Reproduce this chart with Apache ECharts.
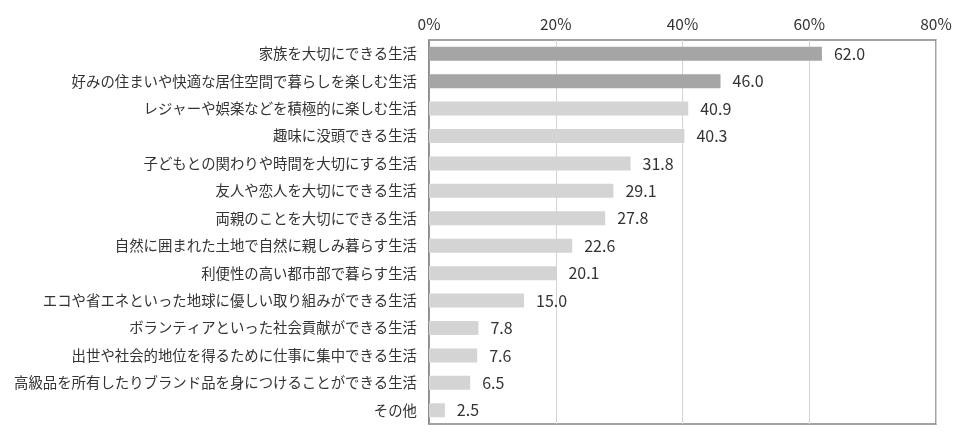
<!DOCTYPE html>
<html><head><meta charset="utf-8">
<script src="https://cdn.jsdelivr.net/npm/echarts@6/dist/echarts.min.js"></script>
<style>html,body{margin:0;padding:0;background:#fff}#c{width:974px;height:448px}</style>
</head><body><div id="c"></div>
<script>
const categories = [
  "家族を大切にできる生活",
  "好みの住まいや快適な居住空間で暮らしを楽しむ生活",
  "レジャーや娯楽などを積極的に楽しむ生活",
  "趣味に没頭できる生活",
  "子どもとの関わりや時間を大切にする生活",
  "友人や恋人を大切にできる生活",
  "両親のことを大切にできる生活",
  "自然に囲まれた土地で自然に親しみ暮らす生活",
  "利便性の高い都市部で暮らす生活",
  "エコや省エネといった地球に優しい取り組みができる生活",
  "ボランティアといった社会貢献ができる生活",
  "出世や社会的地位を得るために仕事に集中できる生活",
  "高級品を所有したりブランド品を身につけることができる生活",
  "その他"
];
const values = [62.0, 46.0, 40.9, 40.3, 31.8, 29.1, 27.8, 22.6, 20.1, 15.0, 7.8, 7.6, 6.5, 2.5];
const highlightCount = 2;
const xTicks = [0, 20, 40, 60, 80];

const chart = echarts.init(document.getElementById('c'), null, {renderer: 'canvas'});
const font = '"Noto Sans CJK JP", "Noto Sans", sans-serif';
chart.setOption({
  animation: false,
  grid: {left: 429, right: 38, top: 40, bottom: 24, show: true, borderColor: '#858585', borderWidth: 1.5, backgroundColor: 'transparent'},
  xAxis: {
    type: 'value', position: 'top', min: xTicks[0], max: xTicks[xTicks.length-1], interval: 20,
    axisLine: {show: false}, axisTick: {show: false},
    axisLabel: {formatter: v => v + '%', color: '#333', fontSize: 15.5, fontFamily: font, margin: 8},
    splitLine: {show: true, lineStyle: {color: '#d4d4d4', width: 1}}
  },
  yAxis: {
    type: 'category', data: categories, inverse: true,
    axisLine: {show: true, lineStyle: {color: '#858585', width: 1.5}}, axisTick: {show: false},
    axisLabel: {color: '#333', fontSize: 14.4, fontFamily: font, margin: 12}
  },
  series: [{
    type: 'bar', barWidth: 14,
    data: values.map((v, i) => ({value: v, itemStyle: {color: i < highlightCount ? '#a5a5a5' : '#d4d4d4'}})),
    label: {show: true, position: 'right', distance: 12, color: '#333', fontSize: 16, fontFamily: font, formatter: p => p.value.toFixed(1)}
  }]
});
</script></body></html>
